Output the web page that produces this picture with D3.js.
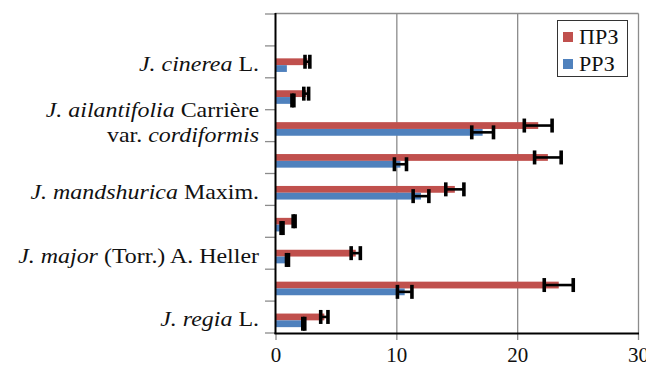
<!DOCTYPE html>
<html>
<head>
<meta charset="utf-8">
<script src="https://cdn.jsdelivr.net/npm/d3@7"></script>
<style>
html,body{margin:0;padding:0;background:#fff;}
svg{display:block;}
</style>
</head>
<body>
<svg id="chart" width="646" height="367"></svg>
<script>
// Categories from top to bottom (every other one is labelled on the axis)
const categories = ["c0","c1","c2","c3","c4","c5","c6","c7","c8","c9"];
const categoryLabels = [
  null,
  [{i:"J. cinerea", r:" L."}],
  null,
  [{i:"J. ailantifolia", r:" Carrière"}, {i:"", r:"var. ", i2:"cordiformis"}],
  null,
  [{i:"J. mandshurica", r:" Maxim."}],
  null,
  [{i:"J. major", r:" (Torr.) A. Heller"}],
  null,
  [{i:"J. regia", r:" L."}]
];
const seriesNames = ["ПРЗ", "РРЗ"];
const przValues = [null, 2.6, 2.5, 21.7, 22.5, 14.8, 1.5, 6.6, 23.4, 4.0];
const przErrors = [null, 0.2, 0.2, 1.15, 1.1, 0.75, 0.08, 0.38, 1.2, 0.3];
const rrzValues = [null, 0.9, 1.4, 17.1, 10.3, 12.0, 0.5, 0.95, 10.65, 2.3];
const rrzErrors = [null, 0, 0.08, 0.9, 0.5, 0.65, 0.08, 0.08, 0.6, 0.08];
const xTicks = [0, 10, 20, 30];

const FONT = "'Liberation Serif', 'Times New Roman', 'DejaVu Serif', serif";
const colors = ["#c0504d", "#4f81bd"];
const svg = d3.select("#chart").attr("font-family", FONT);

const x = d3.scaleLinear().domain([0, 30]).range([276, 638.5]);
const y = d3.scaleBand().domain(categories).range([14, 333]).padding(0);
const barH = 6.8;
const pairOffset = 3.3;

// gridlines
svg.append("g").selectAll("line").data(xTicks.filter(d => d > 0)).join("line")
  .attr("x1", d => x(d)).attr("x2", d => x(d))
  .attr("y1", 13.5).attr("y2", 333)
  .attr("stroke", "#8c8c8c").attr("stroke-width", 1.3);
// top border
svg.append("line").attr("x1", 275).attr("x2", x(30)).attr("y1", 13.5).attr("y2", 13.5)
  .attr("stroke", "#8c8c8c").attr("stroke-width", 1.3);

// y tick marks at band boundaries
const bounds = categories.map(c => y(c)).concat([y(categories[categories.length-1]) + y.bandwidth()]);
svg.append("g").selectAll("line").data(bounds).join("line")
  .attr("x1", 265).attr("x2", 275).attr("y1", d => d).attr("y2", d => d)
  .attr("stroke", "#8c8c8c").attr("stroke-width", 1.3);

// x axis ticks below
svg.append("g").selectAll("line").data(xTicks).join("line")
  .attr("x1", d => x(d)).attr("x2", d => x(d)).attr("y1", 333).attr("y2", 340)
  .attr("stroke", "#8c8c8c").attr("stroke-width", 1.3);

// bars
const series = [
  {vals: przValues, errs: przErrors, color: colors[0], off: -barH},
  {vals: rrzValues, errs: rrzErrors, color: colors[1], off: 0}
];
series.forEach(s => {
  const g = svg.append("g");
  const data = categories.map((c, i) => ({c, v: s.vals[i], e: s.errs[i]})).filter(d => d.v != null);
  g.selectAll("rect").data(data).join("rect")
    .attr("x", x(0))
    .attr("y", d => y(d.c) + y.bandwidth()/2 + pairOffset + s.off)
    .attr("width", d => x(d.v) - x(0))
    .attr("height", barH)
    .attr("fill", s.color);
});
// error bars
series.forEach(s => {
  const g = svg.append("g");
  const data = categories.map((c, i) => ({c, v: s.vals[i], e: s.errs[i]})).filter(d => d.v != null && d.e > 0);
  data.forEach(d => {
    const cy = y(d.c) + y.bandwidth()/2 + pairOffset + s.off + barH/2;
    g.append("line").attr("x1", x(d.v - d.e)).attr("x2", x(d.v + d.e))
      .attr("y1", cy).attr("y2", cy).attr("stroke", "#000").attr("stroke-width", 2.6);
    [d.v - d.e, d.v + d.e].forEach(p => {
      g.append("line").attr("x1", x(p)).attr("x2", x(p))
        .attr("y1", cy - 7).attr("y2", cy + 7)
        .attr("stroke", "#000").attr("stroke-width", 3.6);
    });
  });
});

// axis lines
svg.append("line").attr("x1", 275.5).attr("x2", 275.5).attr("y1", 13).attr("y2", 334)
  .attr("stroke", "#000").attr("stroke-width", 2);
svg.append("line").attr("x1", 274.5).attr("x2", x(30)+0.5).attr("y1", 333.5).attr("y2", 333.5)
  .attr("stroke", "#000").attr("stroke-width", 2);

// x tick labels
svg.append("g").selectAll("text").data(xTicks).join("text")
  .attr("x", d => x(d)).attr("y", 362)
  .attr("text-anchor", "middle").attr("font-size", 21).attr("fill", "#111")
  .text(d => d);

// category labels
const lab = svg.append("g").attr("font-size", 21).attr("text-anchor", "end").attr("fill", "#111");
categories.forEach((c, i) => {
  const L = categoryLabels[i];
  if (!L) return;
  const cy = y(c) + y.bandwidth()/2 + 2;
  const lines = L.length;
  L.forEach((ln, k) => {
    const yy = lines === 1 ? cy : cy - 18 + k * 25;
    const t = lab.append("text")
      .attr("transform", `translate(259,${yy}) scale(1.14,1)`)
      .attr("dy", "0.35em");
    if (ln.i) t.append("tspan").attr("font-style", "italic").text(ln.i);
    t.append("tspan").text(ln.r);
    if (ln.i2) t.append("tspan").attr("font-style", "italic").text(ln.i2);
  });
});

// legend
const lg = svg.append("g");
lg.append("rect").attr("x", 557.5).attr("y", 20.5).attr("width", 70).attr("height", 56)
  .attr("fill", "#fff").attr("stroke", "#333").attr("stroke-width", 1);
seriesNames.forEach((n, i) => {
  const cy = 36.5 + i * 27;
  lg.append("rect").attr("x", 563).attr("y", cy - 4.5).attr("width", 10).attr("height", 10).attr("fill", colors[i]);
  lg.append("text").attr("x", 579).attr("y", cy).attr("dy", "0.35em").attr("font-size", 22).attr("fill", "#111").text(n);
});
</script>
</body>
</html>
